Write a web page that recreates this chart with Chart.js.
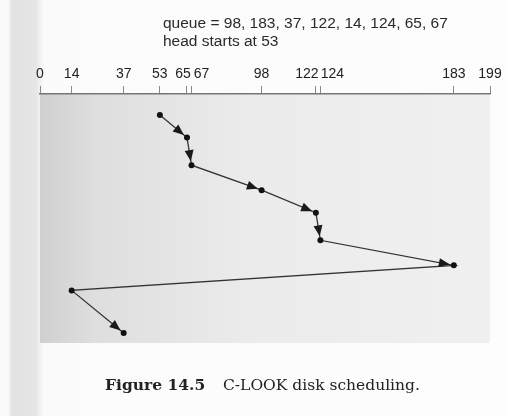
<!DOCTYPE html>
<html>
<head>
<meta charset="utf-8">
<script src="https://cdn.jsdelivr.net/npm/chart.js@4/dist/chart.umd.min.js"></script>
<style>
  html, body { margin: 0; padding: 0; }
  body {
    width: 507px; height: 416px; position: relative; overflow: hidden;
    background: linear-gradient(to right, #fafafa 0px, #fafafa 8px, #e2e2e2 12px, #e6e6e6 36px, #fbfbfb 44px, #fdfdfd 100%);
  }
  #wrap { position: absolute; left: 0; top: 0; width: 507px; height: 416px; }
  .note { position: absolute; left: 163px; font: 15.5px "Liberation Sans", Arial, sans-serif; color: #2a2a2a; line-height: 20px; white-space: nowrap; }
  .cap { position: absolute; top: 375px; font-size: 15.5px; font-family: "DejaVu Serif", serif; color: #222; white-space: nowrap; line-height: 20px; }
</style>
</head>
<body>
<div id="wrap"><canvas id="chart"></canvas></div>
<div class="note" style="top: 13px;">queue = 98, 183, 37, 122, 14, 124, 65, 67</div>
<div class="note" style="top: 31px;">head starts at 53</div>
<div class="cap" style="left: 105px; font-weight: bold;">Figure 14.5</div>
<div class="cap" style="left: 223px;">C-LOOK disk scheduling.</div>
<script>
// cylinder visited, in service order (C-LOOK, head at 53)
const cylinders = [53, 65, 67, 98, 122, 124, 183, 14, 37];
// vertical position of each step (time goes down)
const steps = [0, 0.9, 2, 3, 3.9, 5, 6, 7, 8.7];
// which segments end in an arrowhead (the jump back has none)
const arrowed = [true, true, true, true, true, true, false, true];
const tickValues = [0, 14, 37, 53, 65, 67, 98, 122, 124, 183, 199];
// small sideways nudges so crowded labels don't overlap
const labelNudge = { 65: -4, 67: 10, 122: -9, 124: 12 };

// shaded panel behind the plot
const panelBg = {
  id: "panelBg",
  beforeDraw(chart) {
    const { ctx, chartArea: a } = chart;
    const g = ctx.createLinearGradient(a.left, 0, a.right, 0);
    g.addColorStop(0, "#d0d0d0");
    g.addColorStop(0.12, "#dedede");
    g.addColorStop(0.45, "#ebebeb");
    g.addColorStop(1, "#f0f0f0");
    ctx.save();
    ctx.fillStyle = g;
    ctx.fillRect(a.left, a.top, a.right - a.left, a.bottom - a.top);
    ctx.restore();
  }
};

// tick labels above the axis
const tickLabels = {
  id: "tickLabels",
  afterDraw(chart) {
    const { ctx } = chart;
    const xs = chart.scales.x;
    ctx.save();
    ctx.fillStyle = "#222";
    ctx.font = "14px 'Liberation Sans', Arial, sans-serif";
    ctx.textAlign = "center";
    ctx.textBaseline = "alphabetic";
    tickValues.forEach(v => {
      ctx.fillText(String(v), xs.getPixelForValue(v) + (labelNudge[v] || 0), chart.chartArea.top - 16);
    });
    ctx.restore();
  }
};

// arrowheads just before each target point
const arrows = {
  id: "arrows",
  afterDatasetsDraw(chart) {
    const { ctx } = chart;
    const xs = chart.scales.x, ys = chart.scales.y;
    ctx.save();
    ctx.fillStyle = "#1a1a1a";
    for (let i = 0; i < cylinders.length - 1; i++) {
      if (!arrowed[i]) continue;
      const x0 = xs.getPixelForValue(cylinders[i]), y0 = ys.getPixelForValue(steps[i]);
      const x1 = xs.getPixelForValue(cylinders[i + 1]), y1 = ys.getPixelForValue(steps[i + 1]);
      const ang = Math.atan2(y1 - y0, x1 - x0);
      const tipX = x1 - Math.cos(ang) * 4, tipY = y1 - Math.sin(ang) * 4;
      const len = 11, half = 4.5;
      const bx = tipX - Math.cos(ang) * len, by = tipY - Math.sin(ang) * len;
      ctx.beginPath();
      ctx.moveTo(tipX, tipY);
      ctx.lineTo(bx - Math.sin(ang) * half, by + Math.cos(ang) * half);
      ctx.lineTo(bx + Math.sin(ang) * half, by - Math.cos(ang) * half);
      ctx.closePath();
      ctx.fill();
    }
    ctx.restore();
  }
};

const ctx = document.getElementById("chart").getContext("2d");
new Chart(ctx, {
  type: "scatter",
  data: {
    datasets: [{
      data: cylinders.map((c, i) => ({ x: c, y: steps[i] })),
      showLine: true,
      borderColor: "#333",
      borderWidth: 1.3,
      pointRadius: 3,
      pointBackgroundColor: "#111",
      pointBorderWidth: 0,
      tension: 0
    }]
  },
  options: {
    responsive: true,
    maintainAspectRatio: false,
    animation: false,
    layout: { padding: { left: 40, right: 17, top: 86, bottom: 73 } },
    scales: {
      x: {
        type: "linear",
        position: "top",
        min: 0,
        max: 199,
        afterBuildTicks: (axis) => { axis.ticks = tickValues.map(v => ({ value: v })); },
        ticks: { display: false, autoSkip: false },
        grid: { drawOnChartArea: false, tickLength: 8, color: "#888", lineWidth: 1 },
        border: { color: "#777", width: 1.6 }
      },
      y: {
        display: false,
        reverse: true,
        min: -0.84,
        max: 9.1
      }
    },
    plugins: { legend: { display: false }, tooltip: { enabled: false } }
  },
  plugins: [panelBg, tickLabels, arrows]
});
</script>
</body>
</html>
